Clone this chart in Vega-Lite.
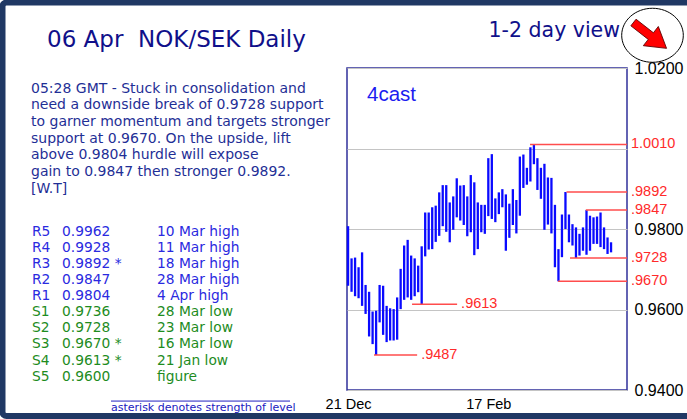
{
  "$schema": "https://vega.github.io/schema/vega-lite/v6.json",
  "autosize": "none",
  "padding": {"left": 0, "top": 68, "right": 687, "bottom": 351},
  "background": "white",
  "bounds": "flush",
  "spacing": 0,
  "config": {"view": {"stroke": null}, "font": "Liberation Sans"},
  "hconcat": [
    {
      "width": 347,
      "height": 322,
      "layer": [
        {
          "data": {"values": [{"frame": "outer"}]},
          "mark": {"type": "rect", "x": 2.5, "x2": 700, "y": -65.5, "y2": 348, "fill": null, "stroke": "#203864", "strokeWidth": 6, "cornerRadius": 4},
          "encoding": {}
        },
        {
          "data": {"values": [{"sep": "header"}]},
          "mark": {"type": "rule", "x": 17, "x2": 623, "y": -5.5, "stroke": "#a8a8a8", "strokeWidth": 1.5},
          "encoding": {}
        },
        {
          "data": {"values": [
            {"line": -8.863, "txt": "05:28 GMT - Stuck in consolidation and"},
            {"line": -7.839, "txt": "need a downside break of 0.9728 support"},
            {"line": -6.814, "txt": "to garner momentum and targets stronger"},
            {"line": -5.789, "txt": "support at 0.9670. On the upside, lift"},
            {"line": -4.764, "txt": "above 0.9804 hurdle will expose"},
            {"line": -3.708, "txt": "gain to 0.9847 then stronger 0.9892."},
            {"line": -2.683, "txt": "[W.T]"}
          ]},
          "mark": {"type": "text", "align": "left", "baseline": "middle", "x": 31, "font": "DejaVu Sans", "fontSize": 14, "color": "#1f2f96"},
          "encoding": {
            "y": {"field": "line", "type": "quantitative", "scale": {"domain": [-10.168, 9.832], "reverse": true, "nice": false, "zero": false}, "axis": null},
            "text": {"field": "txt"}
          }
        },
        {
          "data": {"name": "levels", "values": [
            {"row": 0, "code": "R5", "level": "0.9962", "desc": "10 Mar high", "grp": "R"},
            {"row": 1, "code": "R4", "level": "0.9928", "desc": "11 Mar high", "grp": "R"},
            {"row": 2, "code": "R3", "level": "0.9892 *", "desc": "18 Mar high", "grp": "R"},
            {"row": 3, "code": "R2", "level": "0.9847", "desc": "28 Mar high", "grp": "R"},
            {"row": 4, "code": "R1", "level": "0.9804", "desc": "4 Apr high", "grp": "R"},
            {"row": 5, "code": "S1", "level": "0.9736", "desc": "28 Mar low", "grp": "S"},
            {"row": 6, "code": "S2", "level": "0.9728", "desc": "23 Mar low", "grp": "S"},
            {"row": 7, "code": "S3", "level": "0.9670 *", "desc": "16 Mar low", "grp": "S"},
            {"row": 8, "code": "S4", "level": "0.9613 *", "desc": "21 Jan low", "grp": "S"},
            {"row": 9, "code": "S5", "level": "0.9600", "desc": "figure", "grp": "S"}
          ]},
          "layer": [
            {
              "mark": {"type": "text", "align": "left", "baseline": "middle", "x": 32, "font": "DejaVu Sans", "fontSize": 13.8},
              "encoding": {
                "y": {"field": "row", "type": "quantitative", "scale": {"domain": [-10.168, 9.832], "reverse": true, "nice": false, "zero": false}, "axis": null},
                "text": {"field": "code"},
                "color": {"field": "grp", "type": "nominal", "scale": {"domain": ["R", "S"], "range": ["#2a2ae0", "#1e8c1e"]}, "legend": null}
              }
            },
            {
              "mark": {"type": "text", "align": "left", "baseline": "middle", "x": 62, "font": "DejaVu Sans", "fontSize": 13.8},
              "encoding": {
                "y": {"field": "row", "type": "quantitative", "scale": {"domain": [-10.168, 9.832], "reverse": true, "nice": false, "zero": false}, "axis": null},
                "text": {"field": "level"},
                "color": {"field": "grp", "type": "nominal", "scale": {"domain": ["R", "S"], "range": ["#2a2ae0", "#1e8c1e"]}, "legend": null}
              }
            },
            {
              "mark": {"type": "text", "align": "left", "baseline": "middle", "x": 157, "font": "DejaVu Sans", "fontSize": 13.8},
              "encoding": {
                "y": {"field": "row", "type": "quantitative", "scale": {"domain": [-10.168, 9.832], "reverse": true, "nice": false, "zero": false}, "axis": null},
                "text": {"field": "desc"},
                "color": {"field": "grp", "type": "nominal", "scale": {"domain": ["R", "S"], "range": ["#2a2ae0", "#1e8c1e"]}, "legend": null}
              }
            }
          ]
        },
        {
          "data": {"values": [{"line": 10.52}]},
          "mark": {"type": "rule", "x": 111, "x2": 290, "stroke": "#2020c0", "strokeWidth": 1},
          "encoding": {
            "y": {"field": "line", "type": "quantitative", "scale": {"domain": [-10.168, 9.832], "reverse": true, "nice": false, "zero": false}, "axis": null}
          }
        },
        {
          "data": {"values": [{"line": 10.97, "txt": "asterisk denotes strength of level"}]},
          "mark": {"type": "text", "align": "left", "baseline": "middle", "x": 111, "font": "DejaVu Sans", "fontSize": 11, "color": "#2020c0"},
          "encoding": {
            "y": {"field": "line", "type": "quantitative", "scale": {"domain": [-10.168, 9.832], "reverse": true, "nice": false, "zero": false}, "axis": null},
            "text": {"field": "txt"}
          }
        },
        {
          "data": {"values": [{"line": -11.89, "txt": "06 Apr\u00a0 NOK/SEK Daily"}]},
          "mark": {"type": "text", "align": "left", "baseline": "middle", "x": 47, "font": "DejaVu Sans", "fontSize": 23, "color": "#10108a"},
          "encoding": {
            "y": {"field": "line", "type": "quantitative", "scale": {"domain": [-10.168, 9.832], "reverse": true, "nice": false, "zero": false}, "axis": null},
            "text": {"field": "txt"}
          }
        },
        {
          "data": {"values": [{"line": -12.48, "txt": "1-2 day view"}]},
          "mark": {"type": "text", "align": "right", "baseline": "middle", "x": 620, "font": "DejaVu Sans", "fontSize": 20.5, "color": "#10108a"},
          "encoding": {
            "y": {"field": "line", "type": "quantitative", "scale": {"domain": [-10.168, 9.832], "reverse": true, "nice": false, "zero": false}, "axis": null},
            "text": {"field": "txt"}
          }
        },
        {
          "data": {"values": [{"line": -12.2, "view": "down"}]},
          "mark": {"type": "point", "x": 652.5, "shape": "M-1,0A1,0.877,0,1,0,1,0A1,0.877,0,1,0,-1,0Z", "size": 3795, "filled": true, "fill": "white", "stroke": "black", "strokeWidth": 1, "opacity": 1},
          "encoding": {
            "y": {"field": "line", "type": "quantitative", "scale": {"domain": [-10.168, 9.832], "reverse": true, "nice": false, "zero": false}, "axis": null}
          }
        },
        {
          "data": {"values": [{"line": -12.19, "view": "down"}]},
          "mark": {"type": "point", "x": 650, "shape": "M-1,-0.2L0.05,-0.2L0.05,-0.58L1,0L0.05,0.58L0.05,0.2L-1,0.2Z", "size": 1764, "angle": 38, "filled": true, "fill": "#ff0000", "stroke": "#5a0000", "strokeWidth": 0.8, "opacity": 1},
          "encoding": {
            "y": {"field": "line", "type": "quantitative", "scale": {"domain": [-10.168, 9.832], "reverse": true, "nice": false, "zero": false}, "axis": null}
          }
        }
      ]
    },
    {
      "width": 280,
      "height": 322,
      "view": {"stroke": "#30309a", "strokeWidth": 1.5, "fill": "white"},
      "layer": [
        {
          "data": {"values": [
            {"i": 0, "hi": 0.9807, "lo": 0.9659}, {"i": 1, "hi": 0.9727, "lo": 0.9644},
            {"i": 2, "hi": 0.9729, "lo": 0.9633}, {"i": 3, "hi": 0.9705, "lo": 0.9628},
            {"i": 4, "hi": 0.9742, "lo": 0.9609}, {"i": 5, "hi": 0.9661, "lo": 0.9589},
            {"i": 6, "hi": 0.9644, "lo": 0.9533}, {"i": 7, "hi": 0.9595, "lo": 0.9514},
            {"i": 8, "hi": 0.9597, "lo": 0.9487}, {"i": 9, "hi": 0.9661, "lo": 0.9568},
            {"i": 10, "hi": 0.9659, "lo": 0.9537}, {"i": 11, "hi": 0.9609, "lo": 0.9519},
            {"i": 12, "hi": 0.9603, "lo": 0.9523}, {"i": 13, "hi": 0.9601, "lo": 0.9523},
            {"i": 14, "hi": 0.9630, "lo": 0.9525}, {"i": 15, "hi": 0.9701, "lo": 0.9601},
            {"i": 16, "hi": 0.9759, "lo": 0.9624}, {"i": 17, "hi": 0.9773, "lo": 0.9630},
            {"i": 18, "hi": 0.9734, "lo": 0.9624}, {"i": 19, "hi": 0.9727, "lo": 0.9633},
            {"i": 20, "hi": 0.9709, "lo": 0.9643}, {"i": 21, "hi": 0.9757, "lo": 0.9613},
            {"i": 22, "hi": 0.9841, "lo": 0.9732}, {"i": 23, "hi": 0.9841, "lo": 0.9749},
            {"i": 24, "hi": 0.9854, "lo": 0.9750}, {"i": 25, "hi": 0.9858, "lo": 0.9768},
            {"i": 26, "hi": 0.9891, "lo": 0.9783}, {"i": 27, "hi": 0.9909, "lo": 0.9807},
            {"i": 28, "hi": 0.9909, "lo": 0.9793}, {"i": 29, "hi": 0.9866, "lo": 0.9767},
            {"i": 30, "hi": 0.9881, "lo": 0.9798}, {"i": 31, "hi": 0.9926, "lo": 0.9829},
            {"i": 32, "hi": 0.9908, "lo": 0.9821}, {"i": 33, "hi": 0.9909, "lo": 0.9810},
            {"i": 34, "hi": 0.9881, "lo": 0.9782}, {"i": 35, "hi": 0.9934, "lo": 0.9792},
            {"i": 36, "hi": 0.9916, "lo": 0.9735}, {"i": 37, "hi": 0.9866, "lo": 0.9750},
            {"i": 38, "hi": 0.9860, "lo": 0.9792}, {"i": 39, "hi": 0.9860, "lo": 0.9788},
            {"i": 40, "hi": 0.9976, "lo": 0.9832}, {"i": 41, "hi": 0.9986, "lo": 0.9825},
            {"i": 42, "hi": 0.9876, "lo": 0.9817}, {"i": 43, "hi": 0.9891, "lo": 0.9837},
            {"i": 44, "hi": 0.9899, "lo": 0.9854}, {"i": 45, "hi": 0.9886, "lo": 0.9746},
            {"i": 46, "hi": 0.9863, "lo": 0.9778}, {"i": 47, "hi": 0.9899, "lo": 0.9810},
            {"i": 48, "hi": 0.9872, "lo": 0.9789}, {"i": 49, "hi": 0.9980, "lo": 0.9833},
            {"i": 50, "hi": 0.9985, "lo": 0.9902}, {"i": 51, "hi": 0.9952, "lo": 0.9910},
            {"i": 52, "hi": 1.0003, "lo": 0.9918}, {"i": 53, "hi": 1.0010, "lo": 0.9961},
            {"i": 54, "hi": 0.9976, "lo": 0.9897}, {"i": 55, "hi": 0.9952, "lo": 0.9875},
            {"i": 56, "hi": 0.9962, "lo": 0.9798}, {"i": 57, "hi": 0.9928, "lo": 0.9811},
            {"i": 58, "hi": 0.9927, "lo": 0.9789}, {"i": 59, "hi": 0.9860, "lo": 0.9705},
            {"i": 60, "hi": 0.9750, "lo": 0.9670}, {"i": 61, "hi": 0.9836, "lo": 0.9730},
            {"i": 62, "hi": 0.9892, "lo": 0.9800}, {"i": 63, "hi": 0.9836, "lo": 0.9767},
            {"i": 64, "hi": 0.9812, "lo": 0.9759}, {"i": 65, "hi": 0.9804, "lo": 0.9728},
            {"i": 66, "hi": 0.9788, "lo": 0.9734}, {"i": 67, "hi": 0.9804, "lo": 0.9746},
            {"i": 68, "hi": 0.9847, "lo": 0.9736}, {"i": 69, "hi": 0.9833, "lo": 0.9746},
            {"i": 70, "hi": 0.9829, "lo": 0.9763}, {"i": 71, "hi": 0.9831, "lo": 0.9763},
            {"i": 72, "hi": 0.9841, "lo": 0.9755}, {"i": 73, "hi": 0.9804, "lo": 0.9750},
            {"i": 74, "hi": 0.9779, "lo": 0.9738}, {"i": 75, "hi": 0.9767, "lo": 0.9742}
          ]},
          "mark": {"type": "rule", "color": "#0a0aff", "strokeWidth": 2.3},
          "encoding": {
            "x": {"field": "i", "type": "quantitative", "title": null,
              "scale": {"domain": [-0.3, 79.55], "nice": false, "zero": false},
              "axis": {"values": [0, 40], "labelExpr": "datum.value == 0 ? '21 Dec' : '17 Feb'", "grid": false, "domain": false, "ticks": false, "labelPadding": 7, "labelFontSize": 14.5, "labelColor": "black", "labelFlush": false, "labelOverlap": false, "title": null}},
            "y": {"field": "hi", "type": "quantitative", "title": null,
              "scale": {"domain": [0.94, 1.02], "nice": false, "zero": false},
              "axis": {"orient": "right", "values": [0.94, 0.96, 0.98, 1.0, 1.02], "labelExpr": "datum.value == 1 ? '' : format(datum.value, '.4f')", "grid": true, "gridColor": "#c4c4c4", "gridWidth": 1, "domain": false, "ticks": false, "labelPadding": 7, "labelFontSize": 16, "labelColor": "black", "labelFlush": false, "labelOverlap": false, "title": null}},
            "y2": {"field": "lo"}
          }
        },
        {
          "data": {"name": "marked", "values": [
            {"lvl": 1.0010, "lab": "1.0010", "x0": 51.9, "x1": 79.55},
            {"lvl": 0.9892, "lab": ".9892", "x0": 62.3, "x1": 79.55},
            {"lvl": 0.9847, "lab": ".9847", "x0": 67.8, "x1": 79.55},
            {"lvl": 0.9728, "lab": ".9728", "x0": 63.3, "x1": 79.55},
            {"lvl": 0.9670, "lab": ".9670", "x0": 59.9, "x1": 79.55},
            {"lvl": 0.9613, "lab": ".9613", "x0": 18.25, "x1": 31.1},
            {"lvl": 0.9487, "lab": ".9487", "x0": 7.4, "x1": 19.7}
          ]},
          "layer": [
            {
              "mark": {"type": "rule", "color": "#ff4d4d", "strokeWidth": 1.5},
              "encoding": {
                "x": {"field": "x0", "type": "quantitative", "title": null},
                "x2": {"field": "x1"},
                "y": {"field": "lvl", "type": "quantitative", "title": null}
              }
            },
            {
              "mark": {"type": "text", "align": "left", "baseline": "middle", "dx": 4, "fontSize": 14.5, "color": "#ff2a2a"},
              "encoding": {
                "x": {"field": "x1", "type": "quantitative", "title": null},
                "y": {"field": "lvl", "type": "quantitative", "title": null},
                "text": {"field": "lab"}
              }
            }
          ]
        },
        {
          "data": {"values": [{"t": "4cast"}]},
          "mark": {"type": "text", "align": "left", "baseline": "middle", "fontSize": 20.5, "color": "#1c1cf0"},
          "encoding": {
            "x": {"datum": 5.4, "type": "quantitative"},
            "y": {"datum": 1.0133, "type": "quantitative"},
            "text": {"field": "t"}
          }
        }
      ]
    }
  ]
}
